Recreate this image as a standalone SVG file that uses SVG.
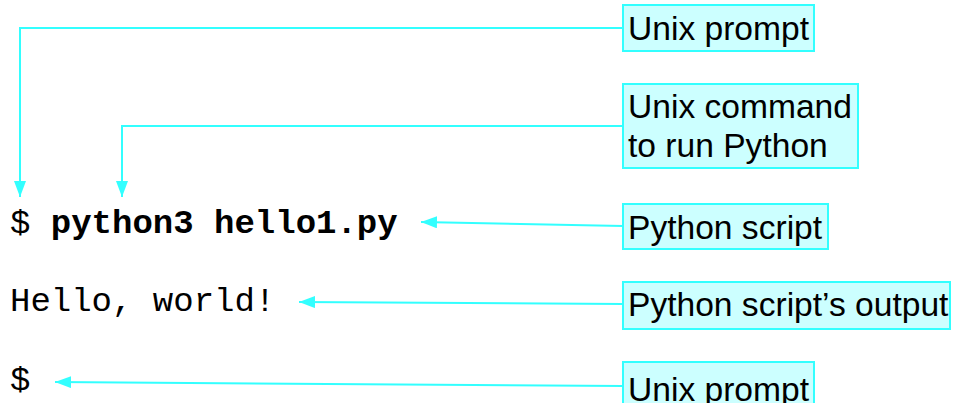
<svg xmlns="http://www.w3.org/2000/svg" width="954" height="403" viewBox="0 0 954 403">
<defs>
<style>
.box{fill:#ccffff;stroke:#33ffff;stroke-width:2}
.lbl{font-family:"Liberation Sans",Arial,sans-serif;font-size:33.6px;fill:#000}
.code{font-family:"Liberation Mono","Courier New",monospace;font-size:34px;fill:#000}
.conn{fill:none;stroke:#33ffff;stroke-width:2}
</style>
<marker id="arr" viewBox="0 0 16 12" refX="16" refY="6" markerWidth="16" markerHeight="12" markerUnits="userSpaceOnUse" orient="auto">
<path d="M0,0 L16,6 L0,12 Z" fill="#33ffff"/>
</marker>
</defs>
<rect width="954" height="403" fill="#fff"/>
<g id="code">
<text class="code" x="10" y="233">$ <tspan font-weight="bold">python3 hello1.py</tspan></text>
<text class="code" x="10" y="311">Hello, world!</text>
<text class="code" x="10" y="390">$</text>
</g>
<g id="connectors">
<path class="conn" d="M623,28 L20,28 L20,197" marker-end="url(#arr)"/>
<path class="conn" d="M623,126 L122,126 L122,197" marker-end="url(#arr)"/>
<path class="conn" d="M623,226 L421,222" marker-end="url(#arr)"/>
<path class="conn" d="M623,304 L299,302" marker-end="url(#arr)"/>
<path class="conn" d="M623,386 L55,382" marker-end="url(#arr)"/>
</g>
<g id="node-unix-prompt-1">
<rect class="box" x="623" y="5" width="191" height="46"/>
<text class="lbl" x="628" y="40">Unix prompt</text>
</g>
<g id="node-unix-command">
<rect class="box" x="623" y="84" width="235" height="84"/>
<text class="lbl" x="628" y="118">Unix command</text>
<text class="lbl" x="628" y="157">to run Python</text>
</g>
<g id="node-python-script">
<rect class="box" x="623" y="204" width="205" height="45"/>
<text class="lbl" x="628" y="239">Python script</text>
</g>
<g id="node-script-output">
<rect class="box" x="623" y="282" width="327" height="47"/>
<text class="lbl" x="628" y="316">Python script’s output</text>
</g>
<g id="node-unix-prompt-2">
<rect class="box" x="623" y="362" width="191" height="46"/>
<text class="lbl" x="628" y="401">Unix prompt</text>
</g>
</svg>
